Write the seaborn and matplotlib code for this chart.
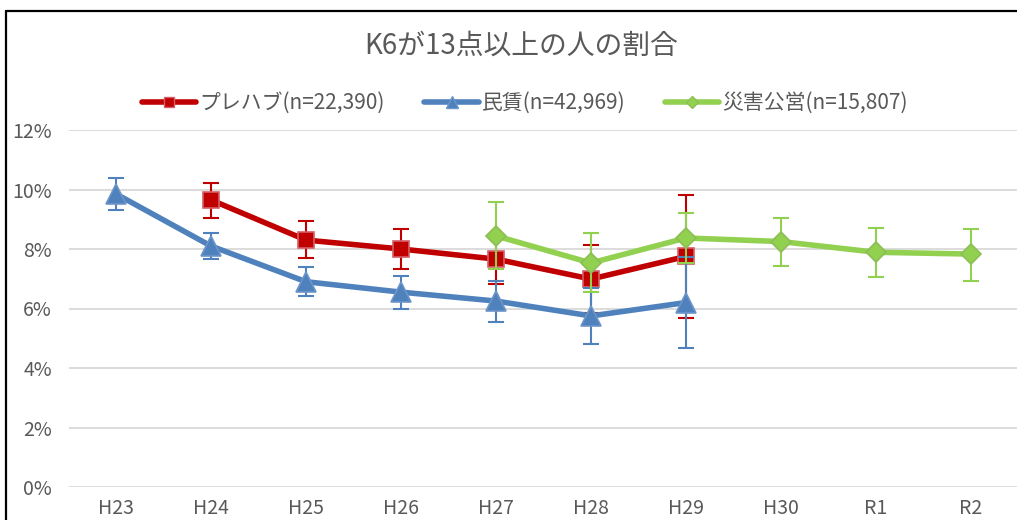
import numpy as np
import pandas as pd
import matplotlib
matplotlib.use("Agg")
import matplotlib.pyplot as plt
import seaborn as sns
from matplotlib.lines import Line2D

# ---------------- data ----------------
years = ['H23', 'H24', 'H25', 'H26', 'H27', 'H28', 'H29', 'H30', 'R1', 'R2']

prefab_label = 'プレハブ(n=22,390)'
prefab_years = ['H24', 'H25', 'H26', 'H27', 'H28', 'H29']
prefab = [9.65, 8.30, 8.00, 7.66, 6.99, 7.75]
prefab_lo = [9.04, 7.71, 7.32, 6.83, 5.85, 5.69]
prefab_hi = [10.22, 8.94, 8.66, 8.49, 8.13, 9.83]

rental_label = '民賃(n=42,969)'
rental_years = ['H23', 'H24', 'H25', 'H26', 'H27', 'H28', 'H29']
rental = [9.85, 8.10, 6.90, 6.55, 6.25, 5.75, 6.20]
rental_lo = [9.31, 7.65, 6.43, 6.00, 5.56, 4.80, 4.68]
rental_hi = [10.40, 8.55, 7.38, 7.09, 6.93, 6.70, 7.72]

public_label = '災害公営(n=15,807)'
public_years = ['H27', 'H28', 'H29', 'H30', 'R1', 'R2']
public = [8.44, 7.53, 8.37, 8.25, 7.89, 7.83]
public_lo = [7.32, 6.55, 7.54, 7.44, 7.05, 6.93]
public_hi = [9.59, 8.55, 9.20, 9.05, 8.70, 8.67]

yticks = [0, 2, 4, 6, 8, 10, 12]
title = 'K6が13点以上の人の割合'

# ---------------- style ----------------
sns.set_theme(style="white")
plt.rcParams['font.family'] = ['Noto Sans CJK JP', 'DejaVu Sans']
TXT = '#595959'

W, H = 1017, 520
fig = plt.figure(figsize=(W / 100, H / 100), dpi=100)
fig.patch.set_facecolor('white')

ax_left, ax_right = 68.5 / W, 1018.5 / W
ax_bottom, ax_top = (H - 487) / H, (H - 130) / H
ax = fig.add_axes([ax_left, ax_bottom, ax_right - ax_left, ax_top - ax_bottom])

pos = {y: i for i, y in enumerate(years)}

series = [
    (prefab_label, prefab_years, prefab, prefab_lo, prefab_hi, '#C00000', '#D45F66', 's', 11),
    (rental_label, rental_years, rental, rental_lo, rental_hi, '#4F81BD', '#6C95C8', '^', 14),
    (public_label, public_years, public, public_lo, public_hi, '#92D050', '#8DBE55', 'D', 10),
]

for z, (lab, yrs, vals, lo, hi, col, ecol, mk, ms) in enumerate(series):
    df = pd.DataFrame({'x': [pos[y] for y in yrs], 'v': vals})
    err = np.array([np.array(vals) - np.array(lo), np.array(hi) - np.array(vals)])
    ax.errorbar(df['x'], df['v'], yerr=err, fmt='none', ecolor=col,
                elinewidth=1.5, capsize=5.5, capthick=1.5, zorder=3 + z * 2)
    sns.lineplot(data=df, x='x', y='v', ax=ax, color=col, linewidth=4.0,
                 marker=mk, markersize=ms, markeredgecolor=ecol,
                 markeredgewidth=1.2, label=lab, zorder=4 + z * 2,
                 legend=False)

ax.set_xlim(-0.5, len(years) - 0.5)
ax.set_ylim(0, 12)
ax.set_xticks(range(len(years)))
ax.set_xticklabels(years)
ax.set_yticks(yticks)
ax.set_yticklabels([f'{t}%' for t in yticks])
ax.set_xlabel('')
ax.set_ylabel('')
ax.grid(axis='y', color='#D9D9D9', linewidth=1.3)
ax.grid(axis='x', visible=False)
for s in ax.spines.values():
    s.set_visible(False)
ax.tick_params(axis='both', length=0, colors=TXT, labelsize=14)
ax.tick_params(axis='y', pad=12)
ax.tick_params(axis='x', pad=8)
ax.set_facecolor('white')

# title
fig.text(521 / W, 1 - 46 / H, title, ha='center', va='center',
         fontsize=20, color=TXT)

# legend
handles = [Line2D([], [], color=col, linewidth=4.0, marker=mk, markersize=ms * 0.65,
                  markeredgecolor=ecol) for (_, _, _, _, _, col, ecol, mk, ms) in series]
labels = [s[0] for s in series]
leg = fig.legend(handles, labels, loc='center', bbox_to_anchor=(525 / W, 1 - 103 / H),
                 ncol=3, frameon=False, fontsize=15, handlelength=2.6,
                 handletextpad=0.15, columnspacing=1.9, labelcolor=TXT)

# chart frame (left & top border)
fx = 5.5 / W
fy = 1 - 10.5 / H
fig.add_artist(Line2D([fx, fx], [0, fy], color='black', linewidth=1.6, transform=fig.transFigure))
fig.add_artist(Line2D([fx, 1], [fy, fy], color='black', linewidth=1.6, transform=fig.transFigure))

fig.savefig('out.png', dpi=100)
